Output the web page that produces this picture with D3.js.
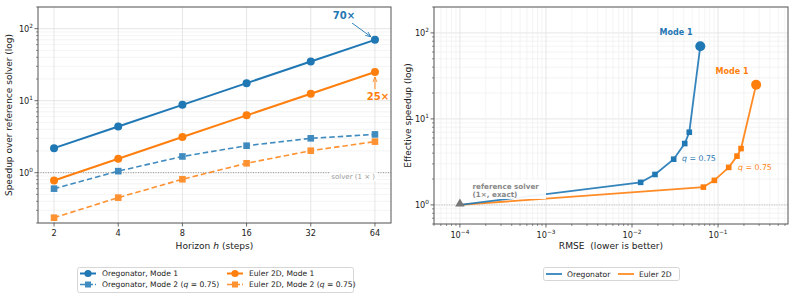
<!DOCTYPE html>
<html><head><meta charset="utf-8">
<script src="https://cdn.jsdelivr.net/npm/d3@7"></script>
<style>body{margin:0;background:#fff}svg{display:block;font-family:"DejaVu Sans",sans-serif}</style>
</head><body>
<svg id="c" width="794" height="299"></svg>
<script>
// ---------- DATA ----------
const horizons = [2, 4, 8, 16, 32, 64];
const oregMode1 = [2.19, 4.38, 8.75, 17.5, 35, 70];
const eulerMode1 = [0.78, 1.56, 3.13, 6.25, 12.5, 25];
const oregMode2 = [0.60, 1.05, 1.68, 2.37, 3.0, 3.4];
const eulerMode2 = [0.237, 0.45, 0.81, 1.35, 2.02, 2.7];

const refPoint = {rmse: 1e-4, speed: 1};
const oregRmse = [0.0126, 0.0185, 0.0305, 0.041, 0.0463, 0.0622];
const oregSpeed = [1.83, 2.26, 3.4, 5.17, 7.0, 70];
const eulerRmse = [0.0675, 0.0906, 0.133, 0.166, 0.185, 0.277];
const eulerSpeed = [1.61, 1.93, 2.73, 3.69, 4.52, 25];

const leftXTicks = [2, 4, 8, 16, 32, 64];
const leftYTicks = [1, 10, 100];
const rightXTicks = [1e-4, 1e-3, 1e-2, 1e-1];
const rightYTicks = [1, 10, 100];

const BLUE = "#1f77b4", ORANGE = "#ff7f0e", GRAY = "#888";
const svg = d3.select("#c");

function sup(sel, exp) {
  sel.append("tspan").text("10");
  sel.append("tspan").attr("dy", -4).attr("font-size", 5.8).text(exp < 0 ? "\u2212" + (-exp) : exp);
}
function minorVals(domain) {
  const out = [];
  const lo = Math.floor(Math.log10(domain[0])), hi = Math.ceil(Math.log10(domain[1]));
  for (let e = lo; e <= hi; e++) for (let k = 1; k <= 9; k++) {
    const v = k * Math.pow(10, e);
    if (v >= domain[0] && v <= domain[1]) out.push({v, major: k === 1});
  }
  return out;
}

// ---------- LEFT PANEL ----------
const L = {x0: 38, x1: 391, y0: 7, y1: 223};
const lx = d3.scaleLog().base(2).domain([Math.pow(2, 0.75), Math.pow(2, 6.25)]).range([L.x0, L.x1]);
const ly = d3.scaleLog().domain([0.2, 200]).range([L.y1, L.y0]);
const gl = svg.append("g");

// grid
minorVals(ly.domain()).forEach(d => {
  gl.append("line").attr("x1", L.x0).attr("x2", L.x1).attr("y1", ly(d.v)).attr("y2", ly(d.v))
    .attr("stroke", d.major ? "#e3e3e3" : "#efefef").attr("stroke-width", d.major ? 0.9 : 0.7);
});
leftXTicks.forEach(t => gl.append("line").attr("x1", lx(t)).attr("x2", lx(t)).attr("y1", L.y0).attr("y2", L.y1)
  .attr("stroke", "#e3e3e3").attr("stroke-width", 0.9));

// reference line
gl.append("line").attr("x1", L.x0).attr("x2", L.x1).attr("y1", ly(1)).attr("y2", ly(1))
  .attr("stroke", GRAY).attr("stroke-width", 0.8).attr("stroke-dasharray", "1,1.5");
gl.append("rect").attr("x", 330).attr("y", ly(1) - 0.5).attr("width", 47).attr("height", 9).attr("fill", "#fff").attr("opacity", 0.9);
gl.append("text").attr("x", 375).attr("y", ly(1) + 6.8).attr("text-anchor", "end").attr("font-size", 7)
  .attr("fill", "#999").text("solver (1 \u00d7 )");

function seriesLeft(vals, color, dashed, marker) {
  const g = gl.append("g").attr("opacity", dashed ? 0.85 : 1);
  const line = d3.line().x((d, i) => lx(horizons[i])).y(d => ly(d));
  g.append("path").attr("d", line(vals)).attr("fill", "none").attr("stroke", color)
    .attr("stroke-width", dashed ? 1.6 : 2).attr("stroke-dasharray", dashed ? "5.5,3" : null);
  vals.forEach((v, i) => {
    if (marker === "circle") g.append("circle").attr("cx", lx(horizons[i])).attr("cy", ly(v)).attr("r", 4).attr("fill", color);
    else g.append("rect").attr("x", lx(horizons[i]) - 3.3).attr("y", ly(v) - 3.3).attr("width", 6.6).attr("height", 6.6).attr("fill", color);
  });
}
seriesLeft(oregMode2, BLUE, true, "square");
seriesLeft(eulerMode2, ORANGE, true, "square");
seriesLeft(oregMode1, BLUE, false, "circle");
seriesLeft(eulerMode1, ORANGE, false, "circle");

// annotations
const defs = svg.append("defs");
[["ab", BLUE], ["ao", ORANGE]].forEach(([id, c]) => {
  defs.append("marker").attr("id", id).attr("viewBox", "0 0 10 10").attr("refX", 10).attr("refY", 5)
    .attr("markerWidth", 6).attr("markerHeight", 6).attr("orient", "auto")
    .append("path").attr("d", "M0,1 L10,5 L0,9").attr("fill", "none").attr("stroke", c).attr("stroke-width", 1.5);
});
gl.append("text").attr("x", 344).attr("y", 19).attr("text-anchor", "middle").attr("font-size", 10)
  .attr("font-weight", "bold").attr("fill", BLUE).text("70\u00d7");
gl.append("line").attr("x1", 352).attr("y1", 23).attr("x2", lx(64) - 4).attr("y2", ly(70) - 3)
  .attr("stroke", BLUE).attr("stroke-width", 0.9).attr("marker-end", "url(#ab)");
gl.append("text").attr("x", 378).attr("y", 100).attr("text-anchor", "middle").attr("font-size", 10)
  .attr("font-weight", "bold").attr("fill", ORANGE).text("25\u00d7");
gl.append("line").attr("x1", lx(64)).attr("y1", 89).attr("x2", lx(64)).attr("y2", ly(25) + 5)
  .attr("stroke", ORANGE).attr("stroke-width", 0.9).attr("marker-end", "url(#ao)");

// axes
gl.append("rect").attr("x", L.x0).attr("y", L.y0).attr("width", L.x1 - L.x0).attr("height", L.y1 - L.y0)
  .attr("fill", "none").attr("stroke", "#555").attr("stroke-width", 1);
leftXTicks.forEach(t => {
  gl.append("line").attr("x1", lx(t)).attr("x2", lx(t)).attr("y1", L.y1).attr("y2", L.y1 + 3.5).attr("stroke", "#444").attr("stroke-width", 0.8);
  gl.append("text").attr("x", lx(t)).attr("y", L.y1 + 12.5).attr("text-anchor", "middle").attr("font-size", 8.2).attr("fill", "#222").text(t);
});
minorVals(ly.domain()).forEach(d => {
  gl.append("line").attr("x1", L.x0 - (d.major ? 3.5 : 2)).attr("x2", L.x0).attr("y1", ly(d.v)).attr("y2", ly(d.v))
    .attr("stroke", "#444").attr("stroke-width", d.major ? 0.8 : 0.6);
});
leftYTicks.forEach(t => {
  const tx = gl.append("text").attr("x", 33).attr("y", ly(t) + 3).attr("text-anchor", "end").attr("font-size", 8.2).attr("fill", "#222");
  sup(tx, Math.round(Math.log10(t)));
});
const xl = gl.append("text").attr("x", (L.x0 + L.x1) / 2).attr("y", 249).attr("text-anchor", "middle").attr("font-size", 9.1).attr("fill", "#222");
xl.append("tspan").text("Horizon ");
xl.append("tspan").attr("font-style", "italic").text("h");
xl.append("tspan").text(" (steps)");
gl.append("text").attr("transform", `translate(12,${(L.y0 + L.y1) / 2}) rotate(-90)`).attr("text-anchor", "middle")
  .attr("font-size", 9).attr("fill", "#222").text("Speedup over reference solver (log)");

// left legend
const lg = gl.append("g");
lg.append("rect").attr("x", 77.5).attr("y", 267.5).attr("width", 276).attr("height", 25).attr("rx", 2)
  .attr("fill", "#fff").attr("stroke", "#ccc").attr("stroke-width", 0.8);
const legL = [
  {x: 80, y: 273.5, c: BLUE, dash: false, m: "circle", t: ["Oregonator, Mode 1"]},
  {x: 80, y: 284.5, c: BLUE, dash: true, m: "square", t: ["Oregonator, Mode 2 (", "q", " = 0.75)"]},
  {x: 227, y: 273.5, c: ORANGE, dash: false, m: "circle", t: ["Euler 2D, Mode 1"]},
  {x: 227, y: 284.5, c: ORANGE, dash: true, m: "square", t: ["Euler 2D, Mode 2 (", "q", " = 0.75)"]}
];
legL.forEach(e => {
  const g = lg.append("g").attr("opacity", e.dash ? 0.85 : 1);
  g.append("line").attr("x1", e.x).attr("x2", e.x + 16).attr("y1", e.y).attr("y2", e.y).attr("stroke", e.c)
    .attr("stroke-width", e.dash ? 1.6 : 2).attr("stroke-dasharray", e.dash ? "5.5,2" : null);
  if (e.m === "circle") g.append("circle").attr("cx", e.x + 8).attr("cy", e.y).attr("r", 3.6).attr("fill", e.c);
  else g.append("rect").attr("x", e.x + 5).attr("y", e.y - 3).attr("width", 6).attr("height", 6).attr("fill", e.c);
  const tx = lg.append("text").attr("x", e.x + 22).attr("y", e.y + 2.6).attr("font-size", 7.6).attr("fill", "#222");
  e.t.forEach((s, i) => tx.append("tspan").attr("font-style", i === 1 ? "italic" : null).text(s));
});

// ---------- RIGHT PANEL ----------
const R = {x0: 434, x1: 788, y0: 7, y1: 224};
const rx = d3.scaleLog().domain([5e-5, 0.65]).range([R.x0, R.x1]);
const ry = d3.scaleLog().domain([0.6, 200]).range([R.y1, R.y0]);
const gr = svg.append("g");

minorVals(ry.domain()).forEach(d => {
  gr.append("line").attr("x1", R.x0).attr("x2", R.x1).attr("y1", ry(d.v)).attr("y2", ry(d.v))
    .attr("stroke", d.major ? "#e3e3e3" : "#efefef").attr("stroke-width", d.major ? 0.9 : 0.7);
});
minorVals(rx.domain()).forEach(d => {
  gr.append("line").attr("x1", rx(d.v)).attr("x2", rx(d.v)).attr("y1", R.y0).attr("y2", R.y1)
    .attr("stroke", d.major ? "#e3e3e3" : "#efefef").attr("stroke-width", d.major ? 0.9 : 0.7);
});
gr.append("line").attr("x1", R.x0).attr("x2", R.x1).attr("y1", ry(1)).attr("y2", ry(1))
  .attr("stroke", "#bbb").attr("stroke-width", 0.8).attr("stroke-dasharray", "1,1.5");

function seriesRight(rm, sp, color) {
  const pts = [[refPoint.rmse, refPoint.speed]].concat(rm.map((r, i) => [r, sp[i]]));
  gr.append("path").attr("d", d3.line().x(d => rx(d[0])).y(d => ry(d[1]))(pts))
    .attr("fill", "none").attr("stroke", color).attr("stroke-width", 1.8).attr("opacity", 0.9);
  rm.forEach((r, i) => {
    if (i === rm.length - 1) gr.append("circle").attr("cx", rx(r)).attr("cy", ry(sp[i])).attr("r", 5).attr("fill", color);
    else gr.append("rect").attr("x", rx(r) - 2.8).attr("y", ry(sp[i]) - 2.8).attr("width", 5.6).attr("height", 5.6).attr("fill", color);
  });
}
seriesRight(eulerRmse, eulerSpeed, ORANGE);
seriesRight(oregRmse, oregSpeed, BLUE);

// reference marker & label
const tri = d3.symbol().type(d3.symbolTriangle).size(38);
gr.append("path").attr("d", tri()).attr("transform", `translate(${rx(refPoint.rmse)},${ry(refPoint.speed) - 1})`).attr("fill", "#777");
gr.append("rect").attr("x", 470).attr("y", 179.5).attr("width", 76).attr("height", 19.5).attr("fill", "#fff").attr("opacity", 0.92);
gr.append("text").attr("x", 472.5).attr("y", 188.5).attr("font-size", 7.2).attr("font-weight", "bold").attr("fill", "#888").text("reference solver");
gr.append("text").attr("x", 472.5).attr("y", 197).attr("font-size", 7.2).attr("font-weight", "bold").attr("fill", "#888").text("(1\u00d7, exact)");

gr.append("text").attr("x", 676).attr("y", 34.5).attr("text-anchor", "middle").attr("font-size", 8).attr("font-weight", "bold").attr("fill", BLUE).text("Mode 1");
gr.append("text").attr("x", 732).attr("y", 73.5).attr("text-anchor", "middle").attr("font-size", 8).attr("font-weight", "bold").attr("fill", ORANGE).text("Mode 1");
function qLabel(x, y, c) {
  const t = gr.append("text").attr("x", x).attr("y", y).attr("font-size", 7.8).attr("fill", c);
  t.append("tspan").attr("font-style", "italic").text("q");
  t.append("tspan").text(" = 0.75");
}
qLabel(682, 160.5, BLUE);
qLabel(738, 169.5, ORANGE);

gr.append("rect").attr("x", R.x0).attr("y", R.y0).attr("width", R.x1 - R.x0).attr("height", R.y1 - R.y0)
  .attr("fill", "none").attr("stroke", "#555").attr("stroke-width", 1);
minorVals(rx.domain()).forEach(d => {
  gr.append("line").attr("x1", rx(d.v)).attr("x2", rx(d.v)).attr("y1", R.y1).attr("y2", R.y1 + (d.major ? 3.5 : 2))
    .attr("stroke", "#444").attr("stroke-width", d.major ? 0.8 : 0.6);
});
minorVals(ry.domain()).forEach(d => {
  gr.append("line").attr("x1", R.x0 - (d.major ? 3.5 : 2)).attr("x2", R.x0).attr("y1", ry(d.v)).attr("y2", ry(d.v))
    .attr("stroke", "#444").attr("stroke-width", d.major ? 0.8 : 0.6);
});
rightXTicks.forEach(t => {
  const tx = gr.append("text").attr("x", rx(t)).attr("y", R.y1 + 14).attr("text-anchor", "middle").attr("font-size", 8.2).attr("fill", "#222");
  sup(tx, Math.round(Math.log10(t)));
});
rightYTicks.forEach(t => {
  const tx = gr.append("text").attr("x", 429).attr("y", ry(t) + 3).attr("text-anchor", "end").attr("font-size", 8.2).attr("fill", "#222");
  sup(tx, Math.round(Math.log10(t)));
});
gr.append("text").attr("x", (R.x0 + R.x1) / 2).attr("y", 249).attr("text-anchor", "middle").attr("font-size", 9.1)
  .attr("fill", "#222").style("white-space", "pre").text("RMSE  (lower is better)");
gr.append("text").attr("transform", `translate(411,${(R.y0 + R.y1) / 2}) rotate(-90)`).attr("text-anchor", "middle")
  .attr("font-size", 9).attr("fill", "#222").text("Effective speedup (log)");

const rg = gr.append("g");
rg.append("rect").attr("x", 543.5).attr("y", 267.5).attr("width", 136).attr("height", 13).attr("rx", 2)
  .attr("fill", "#fff").attr("stroke", "#ccc").attr("stroke-width", 0.8);
[{x: 546, c: BLUE, t: "Oregonator"}, {x: 618, c: ORANGE, t: "Euler 2D"}].forEach(e => {
  rg.append("line").attr("x1", e.x).attr("x2", e.x + 16).attr("y1", 274).attr("y2", 274).attr("stroke", e.c).attr("stroke-width", 1.8).attr("opacity", 0.9);
  rg.append("text").attr("x", e.x + 21).attr("y", 276.6).attr("font-size", 7.6).attr("fill", "#222").text(e.t);
});
</script>
</body></html>
